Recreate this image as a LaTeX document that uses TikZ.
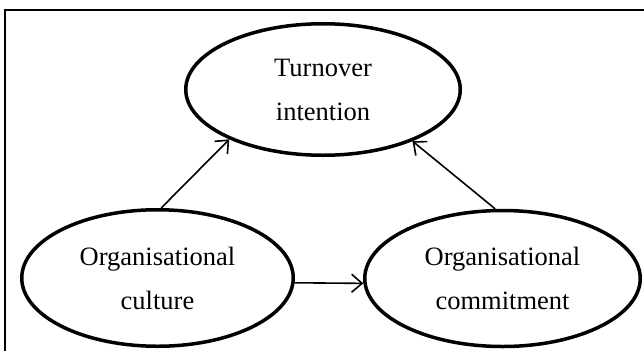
\documentclass[tikz,border=0pt]{standalone}
\usepackage{fontspec}
\setmainfont{Liberation Serif}
\usetikzlibrary{shapes.geometric,arrows.meta}

\tikzset{
  construct/.style={ellipse, draw=black, line width=3.5pt, align=center,
    inner sep=0pt, font=\fontsize{26.5}{44}\selectfont},
  link/.style={line width=1.6pt, -{Straight Barb[length=10.5pt,width=18pt,line width=1.6pt]}},
  frame/.style={line width=1.2pt, draw=black}
}

\begin{document}
\begin{tikzpicture}[x=1pt, y=-1pt]
  \useasboundingbox (0,0) rectangle (644,351);

  % outer frame (top and left edges)
  \draw[frame] (5,351) -- (5,10) -- (644,10);

  % constructs
  \node[construct, minimum width=274.5pt, minimum height=131.5pt] (T) at (323,89.5)
    {\raisebox{-2pt}{Turnover}\\\raisebox{-2pt}{intention}};
  \node[construct, minimum width=271.5pt, minimum height=136.5pt] (L) at (157.5,278)
    {Organisational\\culture};
  \node[construct, minimum width=275.5pt, minimum height=136pt] (R) at (502.5,278.5)
    {Organisational\\commitment};

  % relations
  \draw[link] (L.87) -- (T.208);
  \draw[link] (R.96) -- (T.330);
  \draw[link] (L.-2.5) -- (R.182.3);
\end{tikzpicture}
\end{document}
